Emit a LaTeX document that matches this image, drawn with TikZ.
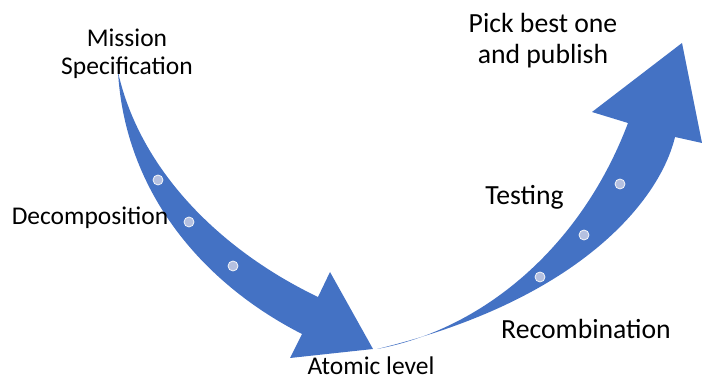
\documentclass[tikz,border=0pt]{standalone}
\usepackage{fontspec}
\setmainfont{Carlito}
\usepackage{tikz}
\usetikzlibrary{positioning}
\definecolor{flecha}{RGB}{68,114,196}
\definecolor{punto}{RGB}{180,192,224}
\tikzstyle{etiqueta} = [inner sep=0pt, align=center, font=\fontsize{25.5}{28.5}\selectfont]
\tikzstyle{etiquetagrande} = [inner sep=0pt, align=center, font=\fontsize{27.7}{31}\selectfont]
\tikzstyle{punto} = [fill=punto, draw=white!85!punto, line width=0.8pt]

\begin{document}
\begin{tikzpicture}[x=1pt,y=-1pt]
		\useasboundingbox (0,0) rectangle (702,379);
		% flecha de bajada
		\fill[flecha] (118,72) .. controls (140,170) and (220,250) .. (318,297)
			-- (330,272) -- (373,349) -- (290,358) -- (302,334)
			.. controls (200,282) and (125,190) .. (118,72) -- cycle;
		% flecha de subida
		\fill[flecha] (377,349) .. controls (480,330) and (580,250) .. (628,123)
			-- (592,112) -- (682,43) -- (702,143) -- (675,137)
			.. controls (660,200) and (580,300) .. (377,349) -- cycle;
		\foreach \Xc/\Yc in {158/180,189/222,233/266,540/277,584/235,620/184}
		{
			\fill[punto] (\Xc,\Yc) circle (5);
		}
		\node[etiqueta] (mision) at (127,54) {Mission\\Specification};
		\node[etiqueta] (descomp) at (90,218) {Decomposition};
		\node[etiqueta] (atomico) at (371,366) {Atomic level};
		\node[etiquetagrande] (recomb) at (586,329) {Recombination};
		\node[etiquetagrande] (prueba) at (524.5,197) {Testing};
		\node[etiquetagrande] (publica) at (543,41) {Pick best one\\and publish};
\end{tikzpicture}
\end{document}
